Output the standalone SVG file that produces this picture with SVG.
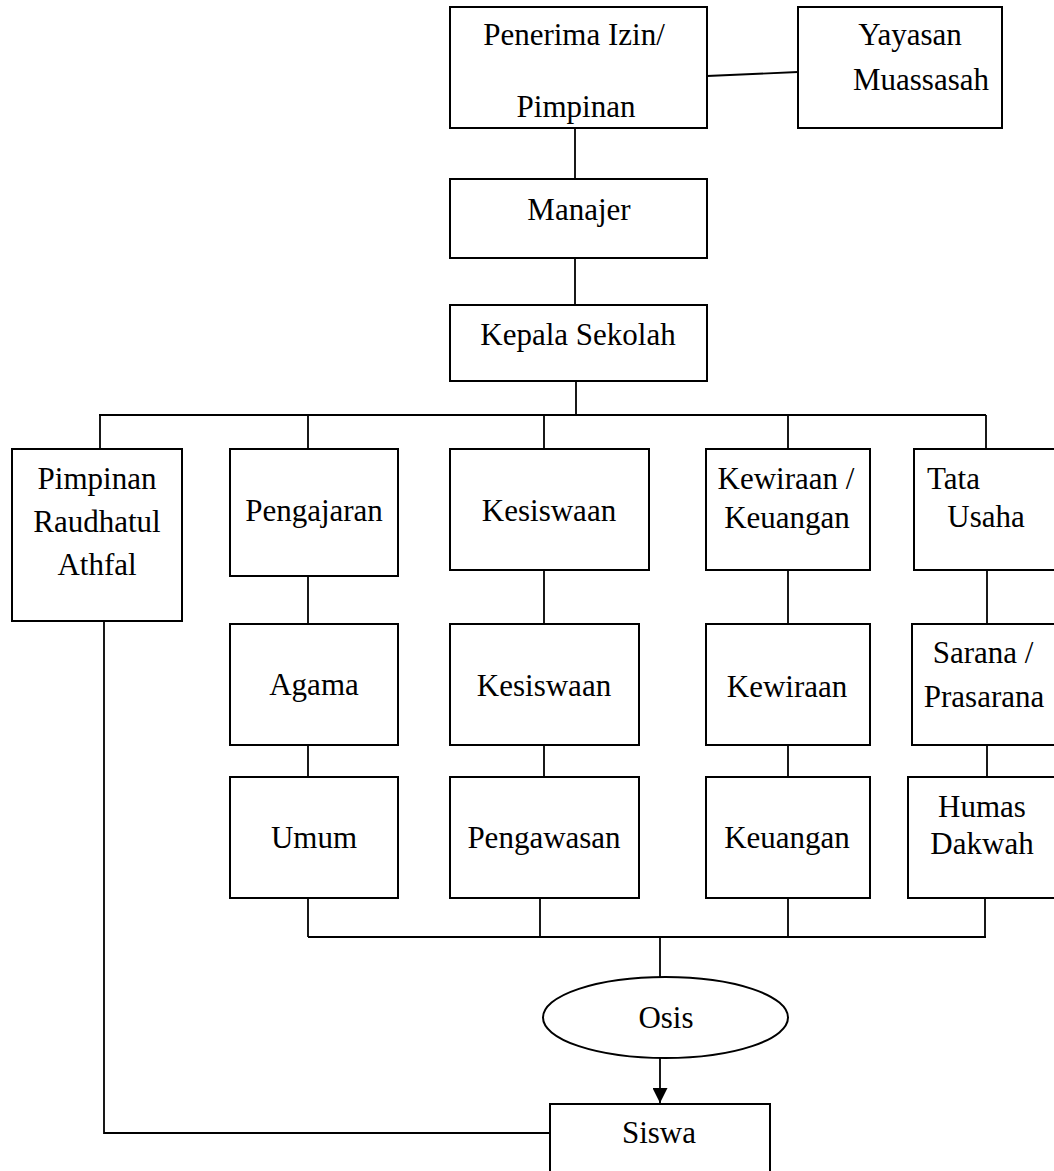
<svg xmlns="http://www.w3.org/2000/svg" width="1054" height="1171" viewBox="0 0 1054 1171">
<defs>
<style>
.box{fill:#fff;stroke:#000;stroke-width:2}
.ln{fill:none;stroke:#000;stroke-width:1.8}
text{font-family:"Liberation Serif","Times New Roman",serif;font-size:31px;fill:#000}
.c{text-anchor:middle}
</style>
<marker id="arr" viewBox="0 0 10 10" refX="10" refY="5" markerWidth="15" markerHeight="15" markerUnits="userSpaceOnUse" orient="auto">
<path d="M0,0 L10,5 L0,10 Z" fill="#000"/>
</marker>
</defs>
<rect width="1054" height="1171" fill="#fff"/>

<g id="connectors">
<line class="ln" x1="707" y1="76" x2="798" y2="72"/>
<line class="ln" x1="575" y1="128" x2="575" y2="179"/>
<line class="ln" x1="575" y1="258" x2="575" y2="305"/>
<line class="ln" x1="576" y1="381" x2="576" y2="415"/>
<line class="ln" x1="99" y1="415" x2="986" y2="415"/>
<line class="ln" x1="100" y1="415" x2="100" y2="449"/>
<line class="ln" x1="308" y1="415" x2="308" y2="449"/>
<line class="ln" x1="544" y1="415" x2="544" y2="449"/>
<line class="ln" x1="788" y1="415" x2="788" y2="449"/>
<line class="ln" x1="986" y1="415" x2="986" y2="449"/>
<line class="ln" x1="308" y1="576" x2="308" y2="624"/>
<line class="ln" x1="544" y1="570" x2="544" y2="624"/>
<line class="ln" x1="788" y1="570" x2="788" y2="624"/>
<line class="ln" x1="987" y1="570" x2="987" y2="624"/>
<line class="ln" x1="308" y1="745" x2="308" y2="777"/>
<line class="ln" x1="544" y1="745" x2="544" y2="777"/>
<line class="ln" x1="788" y1="745" x2="788" y2="777"/>
<line class="ln" x1="987" y1="745" x2="987" y2="777"/>
<line class="ln" x1="308" y1="898" x2="308" y2="937"/>
<line class="ln" x1="540" y1="898" x2="540" y2="937"/>
<line class="ln" x1="788" y1="898" x2="788" y2="937"/>
<line class="ln" x1="985" y1="898" x2="985" y2="937"/>
<line class="ln" x1="308" y1="937" x2="986" y2="937"/>
<line class="ln" x1="660" y1="937" x2="660" y2="977"/>
<line class="ln" x1="660" y1="1058" x2="660" y2="1103" marker-end="url(#arr)" stroke-width="2"/>
<polyline class="ln" points="104,621 104,1133 550,1133"/>
</g>

<g id="penerima">
<rect class="box" x="450" y="7" width="257" height="121"/>
<text class="c" x="574" y="45">Penerima Izin/</text>
<text class="c" x="576" y="117">Pimpinan</text>
</g>
<g id="yayasan">
<rect class="box" x="798" y="7" width="204" height="121"/>
<text class="c" x="910" y="45">Yayasan</text>
<text class="c" x="921" y="90">Muassasah</text>
</g>
<g id="manajer">
<rect class="box" x="450" y="179" width="257" height="79"/>
<text class="c" x="579" y="220">Manajer</text>
</g>
<g id="kepala">
<rect class="box" x="450" y="305" width="257" height="76"/>
<text class="c" x="578" y="345">Kepala Sekolah</text>
</g>
<g id="pimpinan-ra">
<rect class="box" x="12" y="449" width="170" height="172"/>
<text class="c" x="97" y="489">Pimpinan</text>
<text class="c" x="97" y="532">Raudhatul</text>
<text class="c" x="97" y="575">Athfal</text>
</g>
<g id="pengajaran">
<rect class="box" x="230" y="449" width="168" height="127"/>
<text class="c" x="314" y="521">Pengajaran</text>
</g>
<g id="kesiswaan1">
<rect class="box" x="450" y="449" width="199" height="121"/>
<text class="c" x="549" y="521">Kesiswaan</text>
</g>
<g id="kewiraan-keuangan">
<rect class="box" x="706" y="449" width="164" height="121"/>
<text class="c" x="786" y="489">Kewiraan /</text>
<text class="c" x="787" y="528">Keuangan</text>
</g>
<g id="tata-usaha">
<rect class="box" x="914" y="449" width="150" height="121"/>
<text x="927" y="489">Tata</text>
<text class="c" x="986" y="527">Usaha</text>
</g>
<g id="agama">
<rect class="box" x="230" y="624" width="168" height="121"/>
<text class="c" x="314" y="695">Agama</text>
</g>
<g id="kesiswaan2">
<rect class="box" x="450" y="624" width="189" height="121"/>
<text class="c" x="544" y="696">Kesiswaan</text>
</g>
<g id="kewiraan">
<rect class="box" x="706" y="624" width="164" height="121"/>
<text class="c" x="787" y="697">Kewiraan</text>
</g>
<g id="sarana">
<rect class="box" x="912" y="624" width="152" height="121"/>
<text class="c" x="983" y="663">Sarana /</text>
<text class="c" x="984" y="707">Prasarana</text>
</g>
<g id="umum">
<rect class="box" x="230" y="777" width="168" height="121"/>
<text class="c" x="314" y="848">Umum</text>
</g>
<g id="pengawasan">
<rect class="box" x="450" y="777" width="189" height="121"/>
<text class="c" x="544" y="848">Pengawasan</text>
</g>
<g id="keuangan">
<rect class="box" x="706" y="777" width="164" height="121"/>
<text class="c" x="787" y="848">Keuangan</text>
</g>
<g id="humas">
<rect class="box" x="908" y="777" width="156" height="121"/>
<text class="c" x="982" y="817">Humas</text>
<text class="c" x="982" y="854">Dakwah</text>
</g>
<g id="osis">
<ellipse class="box" cx="665.5" cy="1017.5" rx="122.5" ry="40.5"/>
<text class="c" x="666" y="1028">Osis</text>
</g>
<g id="siswa">
<rect class="box" x="550" y="1104" width="220" height="80"/>
<text class="c" x="659" y="1143">Siswa</text>
</g>
</svg>
